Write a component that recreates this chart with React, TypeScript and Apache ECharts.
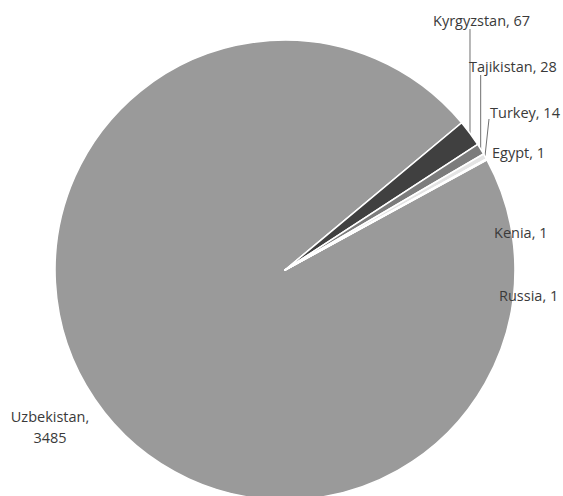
import React, { useEffect, useRef } from "react";
import * as echarts from "echarts";

// Countries and the number of people from each
const countries = ["Uzbekistan", "Kyrgyzstan", "Tajikistan", "Turkey", "Egypt", "Kenia", "Russia"];
const counts = [3485, 67, 28, 14, 1, 1, 1];

// Slice fills, in the same order as the countries
const sliceColors = ["#9a9a9a", "#404040", "#7c7c7c", "#e4e4e4", "#bdbdbd", "#5a5a5a", "#a8a8a8"];

// Where each label sits (text anchor), and where its leader line stops
type Spot = { x: number; y: number; align: "left" | "center"; lineTo?: [number | null, number] };
const labelSpots: Spot[] = [
  { x: 50, y: 427, align: "center" },
  { x: 433, y: 20, align: "left", lineTo: [null, 29] },
  { x: 469, y: 66, align: "left", lineTo: [null, 75] },
  { x: 490, y: 112, align: "left", lineTo: [489, 119] },
  { x: 492, y: 152, align: "left" },
  { x: 494, y: 232, align: "left" },
  { x: 499, y: 295, align: "left" },
];

const CENTER: [number, number] = [285, 270];
const RADIUS = 230;
const START_ANGLE = 28.6;

export default function App() {
  const ref = useRef<HTMLDivElement>(null);

  useEffect(() => {
    if (!ref.current) return;
    const chart = echarts.init(ref.current, null, { renderer: "svg" });
    const total = counts.reduce((a, b) => a + b, 0);

    // outer-edge point at the middle of slice i (fallback when no guide line exists)
    const edgePoint = (i: number): [number, number] => {
      const before = counts.slice(0, i).reduce((a, b) => a + b, 0);
      const mid = START_ANGLE - ((before + counts[i] / 2) / total) * 360;
      const rad = (mid * Math.PI) / 180;
      return [CENTER[0] + RADIUS * Math.cos(rad), CENTER[1] - RADIUS * Math.sin(rad)];
    };

    const data = countries.map((name, i) => ({
      name,
      value: counts[i],
      itemStyle: { color: sliceColors[i] },
      label: {
        formatter: i === 0 ? "{b},\n{c}" : "{b}, {c}",
      },
      labelLine: { show: !!labelSpots[i].lineTo },
    }));

    chart.setOption({
      animation: false,
      backgroundColor: "#ffffff",
      series: [
        {
          type: "pie",
          center: CENTER,
          radius: RADIUS,
          startAngle: START_ANGLE,
          clockwise: true,
          avoidLabelOverlap: false,
          minShowLabelAngle: 0,
          itemStyle: { borderColor: "#ffffff", borderWidth: 1.6 },
          label: {
            show: true,
            position: "outside",
            fontFamily: "'Open Sans', 'Noto Sans', sans-serif",
            fontSize: 14.5,
            color: "#3a3a3a",
            lineHeight: 21,
          },
          labelLine: {
            show: true,
            lineStyle: { color: "#707070", width: 1 },
          },
          labelLayout: (params: any) => {
            const spot = labelSpots[params.dataIndex];
            const out: any = {
              x: spot.x,
              y: spot.y,
              align: spot.align,
              verticalAlign: "middle",
            };
            if (spot.lineTo) {
              const pts = params.labelLinePoints;
              const a: [number, number] = pts && pts[0] ? [pts[0][0], pts[0][1]] : edgePoint(params.dataIndex);
              const end: [number, number] = [spot.lineTo[0] ?? a[0], spot.lineTo[1]];
              out.labelLinePoints = [a, end, end];
            }
            return out;
          },
          data,
        },
      ],
    });

    return () => chart.dispose();
  }, []);

  return (
    <div
      ref={ref}
      style={{ position: "fixed", left: 0, top: 0, width: 563, height: 496, background: "#fff" }}
    />
  );
}
